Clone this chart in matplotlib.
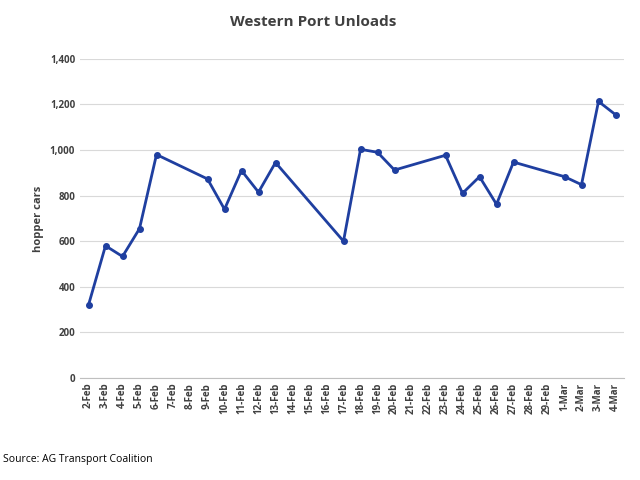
import matplotlib
matplotlib.use("Agg")
import matplotlib.pyplot as plt
import numpy as np

all_dates = ["2-Feb","3-Feb","4-Feb","5-Feb","6-Feb","7-Feb","8-Feb","9-Feb","10-Feb","11-Feb","12-Feb","13-Feb","14-Feb","15-Feb","16-Feb","17-Feb","18-Feb","19-Feb","20-Feb","21-Feb","22-Feb","23-Feb","24-Feb","25-Feb","26-Feb","27-Feb","28-Feb","29-Feb","1-Mar","2-Mar","3-Mar","4-Mar"]
obs_dates = ["2-Feb","3-Feb","4-Feb","5-Feb","6-Feb","9-Feb","10-Feb","11-Feb","12-Feb","13-Feb","17-Feb","18-Feb","19-Feb","20-Feb","23-Feb","24-Feb","25-Feb","26-Feb","27-Feb","1-Mar","2-Mar","3-Mar","4-Mar"]
values = [320,580,533,655,980,873,740,910,815,945,600,1003,990,912,977,810,883,762,947,883,848,1213,1155]

plt.rcParams['font.family'] = ['Open Sans', 'DejaVu Sans']
fig = plt.figure(figsize=(6.4,4.8), dpi=100)
ax = fig.add_axes([0.125,0.2125,0.85,0.665])
xpos = [all_dates.index(d) for d in obs_dates]
ax.plot(xpos, values, color='#1f3fa0', lw=2, marker='o', ms=4)
ax.set_xlim(-0.5, len(all_dates)-0.5)
ax.set_ylim(0,1400)
ax.set_yticks(range(0,1401,200))
ax.set_yticklabels([f"{v:,}" for v in range(0,1401,200)], fontsize=7, fontweight='bold', color='#404040')
ax.set_xticks(range(len(all_dates)))
ax.set_xticklabels(all_dates, rotation=90, fontsize=7, fontweight='bold', color='#404040')
ax.tick_params(length=0)
ax.grid(axis='y', color='#d9d9d9', lw=0.8)
ax.set_axisbelow(True)
for s in ['top','right','left']:
    ax.spines[s].set_visible(False)
ax.spines['bottom'].set_color('#bfbfbf')
ax.set_ylabel('hopper cars', fontsize=8, fontweight='bold', color='#404040')
fig.text(0.49,0.955,'Western Port Unloads', ha='center', va='center', fontsize=11, fontweight='bold', color='#404040')
fig.text(0.005,0.038,'Source: AG Transport Coalition', fontsize=7.5, color='black')
fig.savefig('out.png', dpi=100)
